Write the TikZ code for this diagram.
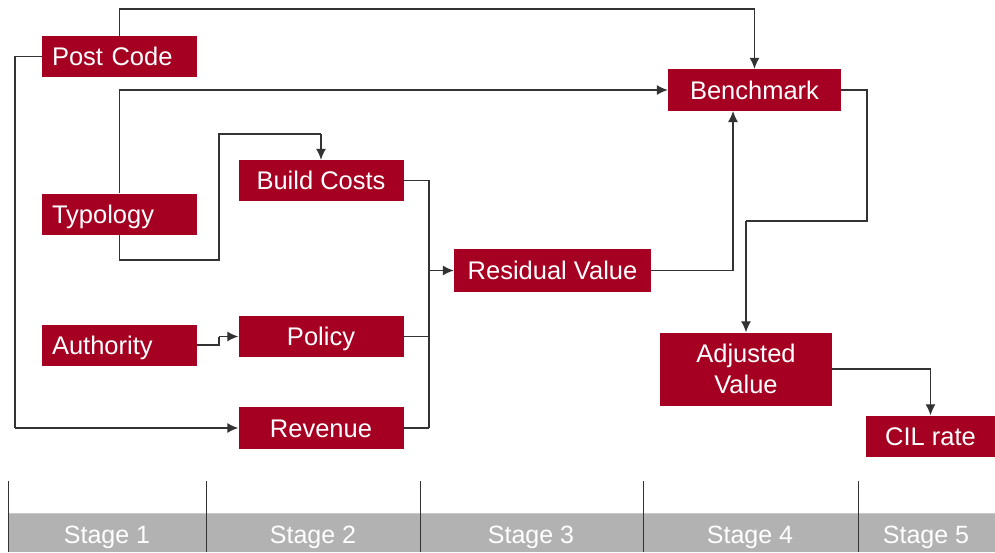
\documentclass[tikz,border=0pt]{standalone}
\usepackage{fontspec}
\setmainfont{Liberation Sans}
\usepackage{tikz}
\usetikzlibrary{shapes,arrows,arrows.meta,positioning,calc}
\definecolor{boxred}{HTML}{A50021}
\definecolor{stagegrey}{HTML}{B2B2B2}
\definecolor{linegrey}{HTML}{333333}
\tikzset{
	block/.style = {fill=boxred, text=white, rectangle, inner sep=0pt, font=\fontsize{25.5}{31}\selectfont},
	oneline/.style = {text height=18.5pt, text depth=0pt},
	leftblock/.style = {block, oneline, align=left, text width=135pt, inner xsep=10pt, minimum height=41pt},
	tmp/.style  = {coordinate},
	conn/.style = {draw=linegrey, line width=1.2pt},
	stagetext/.style = {text=white, font=\fontsize{25}{30}\selectfont, text height=18pt, text depth=0pt},
	stageline/.style = {draw=linegrey, line width=1pt}
}

\begin{document}
\begin{tikzpicture}[x=1pt, y=-1pt, >={Latex[length=11pt,width=10pt]}]
	\useasboundingbox (0,0) rectangle (995,552);
	% ========================== Nodes ============================
	% Stage 1 inputs
	\node [leftblock] (postcode) at (119.5,56.5) {Post Code};
	\node [leftblock] (typology) at (119.5,214) {Typology};
	\node [leftblock] (authority) at (119.5,345) {Authority};
	% Stage 2
	\node [block, oneline, minimum width=165pt, minimum height=41pt] (buildcosts) at (321,180.5) {Build Costs};
	\node [block, oneline, minimum width=165pt, minimum height=41pt] (policy) at (321,336.5) {Policy};
	\node [block, oneline, minimum width=165pt, minimum height=42pt] (revenue) at (321,428) {Revenue};
	% Stage 3 and 4
	\node [block, oneline, minimum width=197pt, minimum height=43pt] (residual) at (552.5,270.5) {Residual Value};
	\node [block, oneline, minimum width=173pt, minimum height=42pt] (benchmark) at (754.5,90) {Benchmark};
	\node [block, align=center, minimum width=172pt, minimum height=73pt] (adjusted) at (746,369) {Adjusted\\Value};
	% Stage 5
	\node [block, oneline, minimum width=129pt, minimum height=41pt] (cilrate) at (930.5,436) {CIL rate};

	% bend points
	\node [tmp] (tmppc1) at (119.5,9) {};
	\node [tmp] (tmppc2) at (754.5,9) {};
	\node [tmp] (tmppc3) at (15,56.5) {};
	\node [tmp] (tmppc4) at (15,428) {};
	\node [tmp] (tmpty1) at (119.5,90) {};
	\node [tmp] (tmpty2) at (119.5,260) {};
	\node [tmp] (tmpty3) at (219,260) {};
	\node [tmp] (tmpty4) at (219,134) {};
	\node [tmp] (tmpty5) at (321,134) {};
	\node [tmp] (tmpau1) at (219,345) {};
	\node [tmp] (tmpau2) at (219,336.5) {};
	\node [tmp] (tmpbus1) at (429,180.5) {};
	\node [tmp] (tmpbus2) at (429,336.5) {};
	\node [tmp] (tmpbus3) at (429,428) {};
	\node [tmp] (tmpbus4) at (429,270.5) {};
	\node [tmp] (tmprv1) at (733,270.5) {};
	\node [tmp] (tmprv2) at (733,111) {};
	\node [tmp] (tmpbm1) at (867,90) {};
	\node [tmp] (tmpbm2) at (867,221) {};
	\node [tmp] (tmpbm3) at (746,221) {};
	\node [tmp] (tmpad1) at (930.5,369) {};

	% ========================== Lines ============================
	% Post Code
	\draw [conn] (postcode.north) -- (tmppc1) -- (tmppc2);
	\draw [conn, ->] (tmppc2) -- (benchmark.north);
	\draw [conn] (postcode.west) -- (tmppc3) -- (tmppc4);
	\draw [conn, ->] (tmppc4) -- (revenue.west);

	% Typology
	\draw [conn, ->] (typology.north) -- (tmpty1) -- (benchmark.west);
	\draw [conn] (typology.south) -- (tmpty2) -- (tmpty3) -- (tmpty4) -- (tmpty5);
	\draw [conn, ->] (tmpty5) -- (buildcosts.north);

	% Authority
	\draw [conn] (authority.east) -- (tmpau1) -- (tmpau2);
	\draw [conn, ->] (tmpau2) -- (policy.west);

	% Stage 2 into residual value
	\draw [conn] (buildcosts.east) -- (tmpbus1) -- (tmpbus3);
	\draw [conn] (policy.east) -- (tmpbus2);
	\draw [conn] (revenue.east) -- (tmpbus3);
	\draw [conn, ->] (tmpbus4) -- (residual.west);

	% Residual value, benchmark, adjusted value
	\draw [conn] (residual.east) -- (tmprv1);
	\draw [conn, ->] (tmprv1) -- (tmprv2);
	\draw [conn] (benchmark.east) -- (tmpbm1) -- (tmpbm2) -- (tmpbm3);
	\draw [conn, ->] (tmpbm3) -- (adjusted.north);
	\draw [conn] (adjusted.east) -- (tmpad1);
	\draw [conn, ->] (tmpad1) -- (cilrate.north);

	% ========================== Stages ============================
	\fill [stagegrey] (8,513) rectangle (995,552);
	\draw [draw=stagegrey!70!white, line width=1pt] (8,513.5) -- (995,513.5);
	\foreach \x in {8,206,420,643,858}
		\draw [stageline] (\x,481) -- (\x,552);
	\foreach \x/\n in {107/1,313/2,531/3,750/4,926/5}
		\node [stagetext] (stage\n) at (\x,534) {Stage \n};
\end{tikzpicture}
\end{document}
